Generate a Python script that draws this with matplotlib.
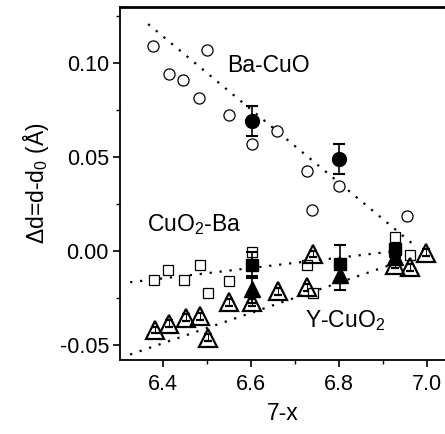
import matplotlib
matplotlib.use("Agg")
import matplotlib.pyplot as plt
from matplotlib.ticker import MultipleLocator

plt.rcParams['font.family'] = ['Liberation Sans', 'DejaVu Sans']
plt.rcParams['mathtext.fontset'] = 'custom'
plt.rcParams['mathtext.rm'] = 'Liberation Sans'

# Ba-CuO open circles
bacuo_x = [6.377, 6.50, 6.414, 6.445, 6.482, 6.55, 6.602, 6.659, 6.727, 6.80, 6.739, 6.955]
bacuo_y = [0.1087, 0.1066, 0.094, 0.091, 0.081, 0.0723, 0.0568, 0.0637, 0.0423, 0.0343, 0.022, 0.0187]
# Ba-CuO filled circles
bacuo_fx = [6.602, 6.80]
bacuo_fy = [0.069, 0.049]
bacuo_ferr = [0.008, 0.008]
# Ba-CuO fit line
bacuo_lx = [6.366, 6.973]
bacuo_ly = [0.1205, 0.0027]

# CuO2-Ba open squares
cuoba_x = [6.38, 6.411, 6.448, 6.484, 6.502, 6.55, 6.602, 6.727, 6.741, 6.927, 6.961]
cuoba_y = [-0.0155, -0.0102, -0.0155, -0.0075, -0.0225, -0.016, -0.0005, -0.0075, -0.0225, 0.0075, -0.002]
# CuO2-Ba filled squares
cuoba_fx = [6.602, 6.802, 6.927]
cuoba_fy = [-0.0075, -0.007, 0.001]
cuoba_ferr = [0.007, 0.010, 0.0]
# CuO2-Ba fit line
cuoba_lx = [6.325, 6.93]
cuoba_ly = [-0.0166, 0.0]

# Y-CuO2 open triangles
ycuo_x = [6.382, 6.414, 6.452, 6.484, 6.502, 6.55, 6.602, 6.661, 6.741, 6.727, 6.927, 6.961, 6.998]
ycuo_y = [-0.042, -0.0386, -0.0354, -0.0348, -0.046, -0.0273, -0.0273, -0.0214, -0.0016, -0.0193, -0.0075, -0.0086, -0.001]
# Y-CuO2 filled triangles
ycuo_fx = [6.602, 6.802, 6.927]
ycuo_fy = [-0.0204, -0.013, -0.003]
ycuo_ferr = [0.007, 0.008, 0.0]
# Y-CuO2 fit line
ycuo_lx = [6.325, 6.916]
ycuo_ly = [-0.055, -0.0075]

fig = plt.figure(figsize=(4.45, 4.34), dpi=100)
ax = fig.add_axes([0.2697, 0.171, 0.7303, 0.813])

dot = (0, (1, 3.5))
ax.plot(bacuo_lx, bacuo_ly, color='black', lw=1.6, linestyle=dot, zorder=1)
ax.plot(cuoba_lx, cuoba_ly, color='black', lw=1.6, linestyle=dot, zorder=1)
ax.plot(ycuo_lx, ycuo_ly, color='black', lw=1.6, linestyle=dot, zorder=1)

inner = 0.0018
ax.errorbar(bacuo_x, bacuo_y, yerr=inner, fmt='o', ms=8, mfc='white', mec='black',
            mew=0.9, ecolor='black', elinewidth=0.7, capsize=2.5, capthick=0.8, zorder=3)
ax.errorbar(cuoba_x, cuoba_y, yerr=inner, fmt='s', ms=6.5, mfc='white', mec='black',
            mew=0.9, ecolor='black', elinewidth=0.7, capsize=2.5, capthick=0.8, zorder=3)
ax.errorbar(ycuo_x, ycuo_y, yerr=inner, fmt='^', ms=12.5, mfc='none', mec='black',
            mew=1.6, ecolor='black', elinewidth=0.7, capsize=3, capthick=0.8, zorder=3)

ax.errorbar(bacuo_fx, bacuo_fy, yerr=bacuo_ferr, fmt='o', ms=10, mfc='black', mec='black',
            ecolor='black', elinewidth=1.2, capsize=4, capthick=1.5, zorder=4)
ax.errorbar(cuoba_fx, cuoba_fy, yerr=cuoba_ferr, fmt='s', ms=8, mfc='black', mec='black',
            ecolor='black', elinewidth=1.2, capsize=4, capthick=1.5, zorder=4)
ax.errorbar(ycuo_fx, ycuo_fy, yerr=ycuo_ferr, fmt='^', ms=11.5, mfc='black', mec='black',
            ecolor='black', elinewidth=1.2, capsize=4, capthick=1.5, zorder=4)

ax.text(6.545, 0.0985, 'Ba-CuO', fontsize=16.5, ha='left', va='center')
ax.text(6.364, 0.0139, 'CuO$_2$-Ba', fontsize=16.5, ha='left', va='center')
ax.text(6.723, -0.0371, 'Y-CuO$_2$', fontsize=16.5, ha='left', va='center')

ax.set_xlim(6.302, 7.041)
ax.set_ylim(-0.0578, 0.1296)
ax.xaxis.set_minor_locator(MultipleLocator(0.1))
ax.yaxis.set_minor_locator(MultipleLocator(0.025))
ax.set_xticks([6.4, 6.6, 6.8, 7.0])
ax.set_xticklabels(['6.4', '6.6', '6.8', '7.0'])
ax.set_yticks([-0.05, 0.0, 0.05, 0.10])
ax.set_yticklabels(['-0.05', '0.00', '0.05', '0.10'])

ax.spines['right'].set_visible(False)
ax.spines['top'].set_linewidth(2.0)
ax.spines['left'].set_linewidth(1.3)
ax.spines['bottom'].set_linewidth(1.3)
ax.tick_params(which='major', direction='out', length=5, width=1.2, labelsize=15.5, pad=3)
ax.tick_params(axis='x', which='major', pad=5)
ax.tick_params(which='minor', direction='out', length=3, width=1.0)
ax.tick_params(top=False, right=False)

ax.set_xlabel('7-x', fontsize=16.5, labelpad=5)
ax.set_ylabel('Δd=d-d$_0$ (Å)', fontsize=16.5, labelpad=6)

fig.savefig('out.png', dpi=100)
